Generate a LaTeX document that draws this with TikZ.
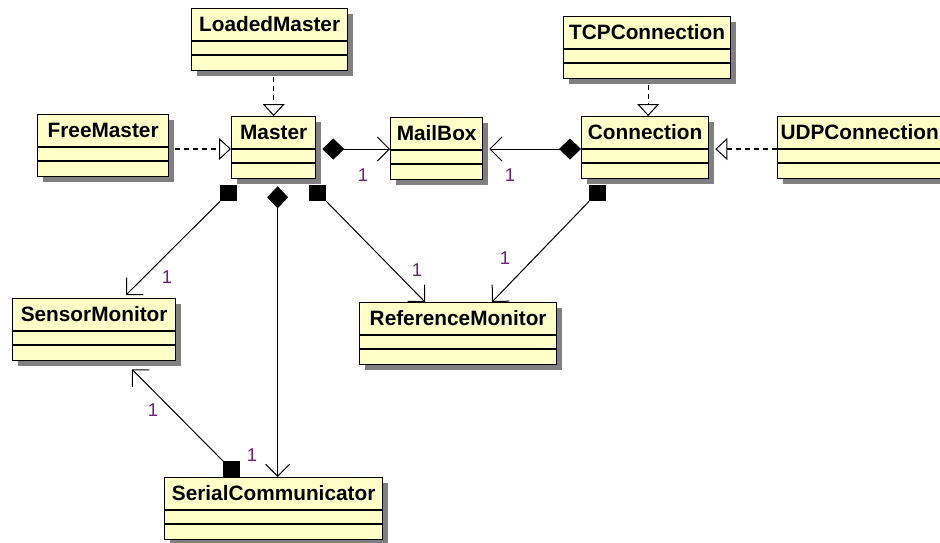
\documentclass[tikz,border=0pt]{standalone}
\usepackage{fontspec}
\setmainfont{Liberation Sans}
\usetikzlibrary{arrows.meta,calc}

\definecolor{classfill}{RGB}{255,255,200}
\definecolor{shadowgray}{RGB}{128,128,128}
\definecolor{multcolor}{RGB}{112,32,120}

\tikzset{
  classbox/.style={draw=black, line width=1.3pt, fill=classfill, anchor=north west,
    inner sep=0pt, minimum height=62pt},
  classname/.style={anchor=base, inner sep=0pt, text=black,
    font=\bfseries\fontsize{20.8}{24}\selectfont},
  compsq/.style={fill=black, inner sep=0pt, minimum width=17pt, minimum height=16pt,
    anchor=north west},
  mult/.style={inner sep=0pt, text=multcolor, font=\fontsize{18.5}{22}\selectfont},
  link/.style={draw=black, line width=1pt},
  realize/.style={link, line width=1.2pt, dash pattern=on 5pt off 4pt,
    -{Triangle[length=12pt, width=22pt, fill=white, line width=1pt]}},
  navarrow/.style={-{Straight Barb[length=12pt, width=24pt, line width=1pt]}},
  wholepart/.style={{Diamond[length=22pt, width=21pt]}-{Straight Barb[length=12pt, width=24pt, line width=1pt]}},
}

% \umlclass{name}{left x}{top y}{width}{title}
\newcommand\umlclass[5]{%
  \fill[shadowgray] (#2+6,#3+6) rectangle ++(#4,62);
  \node[classbox, minimum width=#4pt] (#1) at (#2,#3) {};
  \node[classname] (#1-title) at ($(#1.north)+(0,23)$) {#5};
  \coordinate (#1-sepw) at ($(#1.north west)+(0,33)$);
  \coordinate (#1-sepe) at ($(#1.north east)+(0,33)$);
  \draw[line width=1.2pt] (#1-sepw) -- (#1-sepe);
  \draw[line width=1.2pt] ($(#1.north west)+(0,47)$) -- ($(#1.north east)+(0,47)$);
}

\begin{document}
\begin{tikzpicture}[x=1pt, y=-1pt]
  \useasboundingbox (0,0) rectangle (940,542);
  \clip (0,0) rectangle (940,542);
  \fill[white] (0,0) rectangle (940,542);

  % classes
  \umlclass{LoadedMaster}{191}{8}{156}{LoadedMaster}
  \umlclass{TCPConnection}{563}{16}{167}{TCPConnection}
  \umlclass{FreeMaster}{37}{114}{131}{FreeMaster}
  \umlclass{Master}{231}{116}{84}{Master}
  \umlclass{MailBox}{390}{117}{92}{MailBox}
  \umlclass{Connection}{581}{116}{127}{Connection}
  \umlclass{UDPConnection}{777}{116}{164}{UDPConnection}
  \umlclass{SensorMonitor}{12}{298}{163}{SensorMonitor}
  \umlclass{ReferenceMonitor}{359}{302}{197}{ReferenceMonitor}
  \umlclass{SerialCommunicator}{164}{477}{218}{SerialCommunicator}

  % realizations
  \draw[realize, shorten <=6pt] (LoadedMaster.south -| Master.north) -- (Master.north);
  \draw[realize, shorten <=6pt] (FreeMaster.east |- Master-sepw) -- (Master-sepw);
  \draw[realize, shorten <=6pt] ([xshift=3pt]TCPConnection.south -| Connection.north)
    -- ([xshift=3pt]Connection.north);
  \draw[realize, shorten >=6pt] (UDPConnection-sepw) -- (UDPConnection-sepw -| Connection.east);

  % compositions with diamonds
  \draw[link, wholepart, shorten <=6pt] (Master-sepe) -- (Master-sepe -| MailBox.west);
  \draw[link, wholepart, shorten >=6pt] (Connection-sepw) -- (Connection-sepw -| MailBox.east);
  \draw[link, wholepart] ([xshift=4pt, yshift=-7pt]Master.south)
    -- ([xshift=4pt]SerialCommunicator.north);

  % compositions with squares
  \node[compsq] (sqA) at (220,185) {};
  \node[compsq] (sqB) at (309,185) {};
  \node[compsq] (sqC) at (589,185) {};
  \node[compsq] (sqD) at (223,461) {};
  \draw[link, navarrow] (sqA.south west) -- ([xshift=114pt, yshift=3pt]SensorMonitor.north west);
  \draw[link, navarrow] (sqB.south east) -- ([xshift=66pt]ReferenceMonitor.north west);
  \draw[link, navarrow] (sqC.south west) -- ([xshift=133pt]ReferenceMonitor.north west);
  \draw[link, navarrow] (sqD.north west) -- ([xshift=120pt, yshift=-8pt]SensorMonitor.south west);

  % multiplicities
  \node[mult] (m1) at (363,175) {1};
  \node[mult] (m2) at (510,175) {1};
  \node[mult] (m3) at (167,277) {1};
  \node[mult] (m4) at (252,455) {1};
  \node[mult] (m5) at (417,270) {1};
  \node[mult] (m6) at (505,258) {1};
  \node[mult] (m7) at (153,410) {1};
\end{tikzpicture}
\end{document}
